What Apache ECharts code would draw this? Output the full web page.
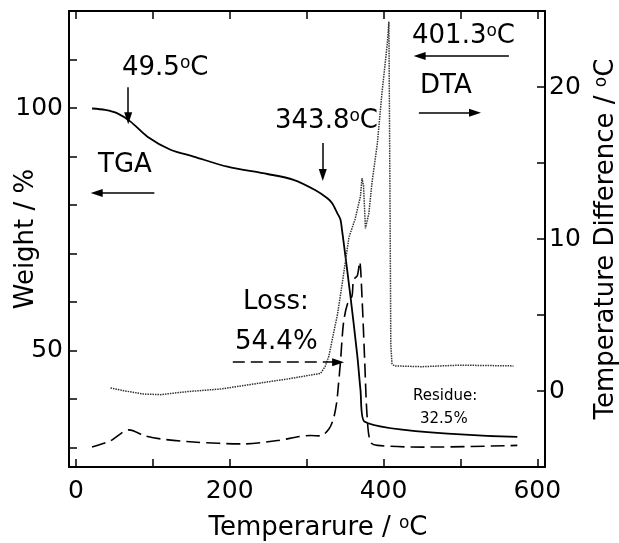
<!DOCTYPE html>
<html>
<head>
<meta charset="utf-8">
<script src="https://cdn.jsdelivr.net/npm/echarts@6/dist/echarts.min.js"></script>
<style>
html,body{margin:0;padding:0;background:#fff;}
#chart{width:619px;height:543px;}
</style>
</head>
<body>
<div id="chart"></div>
<script>
// ---- data ----
// TGA: temperature (°C) vs weight (%)  -> left axis
const tgaT = [21, 38, 54, 71, 93, 123, 153, 197, 249, 283, 311, 327, 333, 340, 344, 346, 348, 357, 366, 370, 375, 574];
const tgaW = [99.9, 99.6, 98.9, 97.2, 94.1, 91.4, 90.0, 87.9, 86.4, 85.2, 83.1, 81.4, 80.4, 78.3, 77.0, 74.9, 72.5, 61.2, 48.8, 42.0, 35.4, 32.2];
// DTA: temperature (°C) vs temperature difference (°C) -> right axis
const dtaT = [45, 62, 88, 110, 145, 188, 231, 275, 311, 318, 324, 329, 335, 340, 344, 349, 355, 363, 370, 372, 374, 376.5, 381, 385, 392, 398, 405, 407, 408.5, 409.5, 411, 414, 450, 500, 569];
const dtaD = [0.2, 0.02, -0.2, -0.24, -0.04, 0.13, 0.46, 0.79, 1.1, 1.15, 1.6, 2.3, 3.8, 5.0, 6.3, 8.0, 10.1, 11.3, 12.8, 14.0, 13.5, 10.7, 11.7, 13.7, 16.3, 19.6, 22.9, 24.3, 12.0, 3.0, 1.8, 1.65, 1.6, 1.7, 1.65];
// DTG-like dashed trace (drawn against the right-axis scale)
const dtgT = [21, 45, 69, 90, 110, 153, 218, 262, 305, 318, 329, 335, 339, 341, 344, 348, 353, 359, 361, 366, 369, 372, 375.6, 378.6, 383, 392, 454, 574];
const dtgV = [-3.69, -3.28, -2.56, -2.95, -3.15, -3.36, -3.48, -3.26, -2.93, -2.95, -2.5, -1.8, -0.8, 0.2, 1.9, 4.5, 5.7, 6.25, 7.3, 7.6, 8.5, 6.2, 1.9, -1.6, -3.36, -3.58, -3.69, -3.58];
// tick labels
const xLabels = [0, 200, 400, 600];
const leftLabels = [50, 100];
const rightLabels = [0, 10, 20];
// annotation arrows (data coordinates: temperature, weight %)
const arrow49 = [[68, 104.3], [68, 97.9]];
const arrow343 = [[321, 92.8], [321, 86.2]];
const arrowTGA = [[102, 82.5], [27, 82.5]];
const arrow401 = [[563, 110.7], [447, 110.7]];
const arrowDTA = [[446, 99.0], [519, 99.0]];
const arrowLoss = [[204, 47.6], [341, 47.6]];

const FONT = '"DejaVu Sans", sans-serif';
const sup = {s: {fontSize: 17, fontFamily: FONT, verticalAlign: 'top', color: '#000'}};

function pairs(a, b) { return a.map((v, i) => [v, b[i]]); }
function arrowItem(seg, dashed) {
  const item = [{coord: seg[0]}, {coord: seg[1]}];
  if (dashed) item[0].lineStyle = {type: [12, 6], width: 1.5, color: '#000'};
  return item;
}

const chart = echarts.init(document.getElementById('chart'), null, {renderer: 'canvas'});

const axisLineStyle = {onZero: false, lineStyle: {color: '#000', width: 2}};
const tickStyle = {show: true, inside: true, length: 8, lineStyle: {color: '#000', width: 1.5}};

chart.setOption({
  animation: false,
  backgroundColor: '#fff',
  grid: {left: 69, right: 74, top: 11, bottom: 76, containLabel: false, outerBoundsMode: 'none'},
  xAxis: [{
    type: 'value', position: 'bottom', min: -9, max: 610, minInterval: 100, maxInterval: 100,
    axisLine: axisLineStyle, axisTick: tickStyle, splitLine: {show: false},
    axisLabel: {color: '#000', fontSize: 25, fontFamily: FONT, margin: 12,
      formatter: v => xLabels.includes(v) ? String(v) : ''},
    name: 'Temperarure / {s|o}C', nameLocation: 'middle', nameGap: 48, nameMoveOverlap: false,
    nameTextStyle: {color: '#000', fontSize: 26, fontFamily: FONT, rich: sup, padding: [0, 0, 0, 22]}
  }, {
    type: 'value', position: 'top', min: -9, max: 610, minInterval: 100, maxInterval: 100,
    axisLine: axisLineStyle, axisTick: tickStyle, splitLine: {show: false},
    axisLabel: {show: false}
  }],
  yAxis: [{
    type: 'value', position: 'left', min: 26, max: 120, minInterval: 10, maxInterval: 10, splitNumber: 9,
    axisLine: axisLineStyle, axisTick: tickStyle, splitLine: {show: false},
    axisLabel: {color: '#000', fontSize: 25, fontFamily: FONT, margin: 6,
      formatter: v => leftLabels.includes(v) ? String(v) : ''},
    name: 'Weight / %', nameLocation: 'middle', nameGap: 30, nameMoveOverlap: false,
    nameTextStyle: {color: '#000', fontSize: 26, fontFamily: FONT}
  }, {
    type: 'value', position: 'right', min: -5, max: 25, interval: 5,
    axisLine: axisLineStyle, axisTick: tickStyle, splitLine: {show: false},
    axisLabel: {color: '#000', fontSize: 25, fontFamily: FONT, margin: 4,
      formatter: v => rightLabels.includes(v) ? String(v) : ''},
    name: 'Temperature Difference / {s|o}C', nameLocation: 'middle', nameGap: 48, nameRotate: 90, nameMoveOverlap: false,
    nameTextStyle: {color: '#000', fontSize: 26, fontFamily: FONT, rich: sup}
  }],
  series: [{
    name: 'TGA', type: 'line', xAxisIndex: 0, yAxisIndex: 0, data: pairs(tgaT, tgaW),
    showSymbol: false, smooth: 0.3, lineStyle: {color: '#000', width: 1.8}, silent: true,
    emphasis: {disabled: true},
    markLine: {
      silent: true, symbol: ['none', 'triangle'], symbolSize: [8, 12],
      label: {show: false}, lineStyle: {color: '#000', width: 1.5, type: 'solid'},
      emphasis: {disabled: true},
      data: [arrowItem(arrow49), arrowItem(arrow343), arrowItem(arrowTGA), arrowItem(arrow401), arrowItem(arrowDTA), arrowItem(arrowLoss, true)]
    }
  }, {
    name: 'DTA', type: 'line', xAxisIndex: 0, yAxisIndex: 1, data: pairs(dtaT, dtaD),
    showSymbol: false, lineStyle: {color: '#333', width: 1.5, type: [1.5, 1]}, silent: true,
    emphasis: {disabled: true}
  }, {
    name: 'DTG', type: 'line', xAxisIndex: 0, yAxisIndex: 1, data: pairs(dtgT, dtgV),
    showSymbol: false, smooth: 0.3, lineStyle: {color: '#000', width: 1.6, type: [14, 6]}, silent: true,
    emphasis: {disabled: true}
  }],
  graphic: [
    {type: 'text', left: 122, top: 55, style: {text: '49.5{s|o}C', font: '26px ' + FONT, fill: '#000', rich: sup}},
    {type: 'text', left: 275, top: 108, style: {text: '343.8{s|o}C', font: '26px ' + FONT, fill: '#000', rich: sup}},
    {type: 'text', left: 98, top: 152, style: {text: 'TGA', font: '26px ' + FONT, fill: '#000'}},
    {type: 'text', left: 412, top: 23, style: {text: '401.3{s|o}C', font: '26px ' + FONT, fill: '#000', rich: sup}},
    {type: 'text', left: 420, top: 73, style: {text: 'DTA', font: '26px ' + FONT, fill: '#000'}},
    {type: 'text', left: 243, top: 289, style: {text: 'Loss:', font: '26px ' + FONT, fill: '#000'}},
    {type: 'text', left: 235, top: 329, style: {text: '54.4%', font: '26px ' + FONT, fill: '#000'}},
    {type: 'text', left: 413, top: 389, style: {text: 'Residue:', font: '15px ' + FONT, fill: '#000'}},
    {type: 'text', left: 420, top: 412, style: {text: '32.5%', font: '15px ' + FONT, fill: '#000'}}
  ]
});
</script>
</body>
</html>
